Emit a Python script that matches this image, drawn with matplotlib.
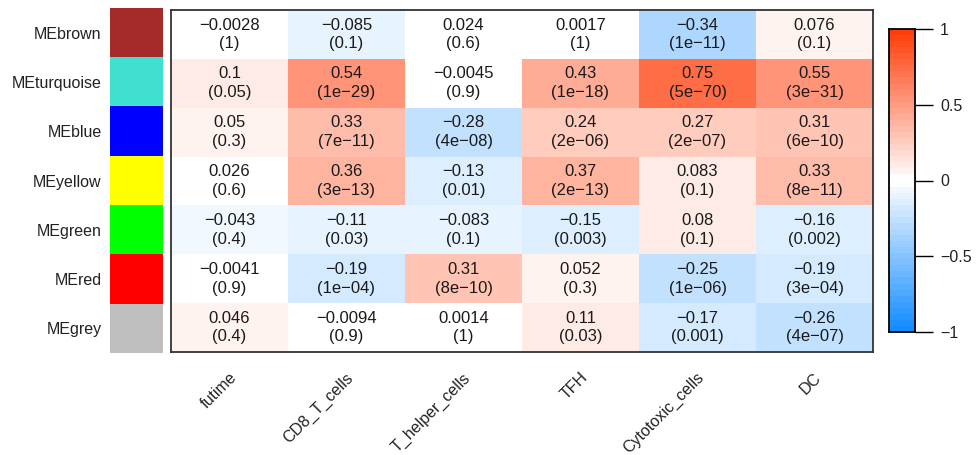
import numpy as np
import matplotlib
matplotlib.use("Agg")
import matplotlib.pyplot as plt
from matplotlib.colors import ListedColormap

plt.rcParams['font.family'] = ['Liberation Sans', 'DejaVu Sans']

# data
modules = ["MEbrown", "MEturquoise", "MEblue", "MEyellow", "MEgreen", "MEred", "MEgrey"]
module_colors = ["#A52A2A", "#40E0D0", "#0000FF", "#FFFF00", "#00FF00", "#FF0000", "#BEBEBE"]
traits = ["futime", "CD8_T_cells", "T_helper_cells", "TFH", "Cytotoxic_cells", "DC"]

corr = [
    [-0.0028, -0.085, 0.024, 0.0017, -0.34, 0.076],
    [0.1, 0.54, -0.0045, 0.43, 0.75, 0.55],
    [0.05, 0.33, -0.28, 0.24, 0.27, 0.31],
    [0.026, 0.36, -0.13, 0.37, 0.083, 0.33],
    [-0.043, -0.11, -0.083, -0.15, 0.08, -0.16],
    [-0.0041, -0.19, 0.31, 0.052, -0.25, -0.19],
    [0.046, -0.0094, 0.0014, 0.11, -0.17, -0.26],
]
pvals = [
    ["1", "0.1", "0.6", "1", "1e-11", "0.1"],
    ["0.05", "1e-29", "0.9", "1e-18", "5e-70", "3e-31"],
    ["0.3", "7e-11", "4e-08", "2e-06", "2e-07", "6e-10"],
    ["0.6", "3e-13", "0.01", "2e-13", "0.1", "8e-11"],
    ["0.4", "0.03", "0.1", "0.003", "0.1", "0.002"],
    ["0.9", "1e-04", "8e-10", "0.3", "1e-06", "3e-04"],
    ["0.4", "0.9", "1", "0.03", "0.001", "4e-07"],
]

corr = np.array(corr)
nr, nc = corr.shape

# blue-white-red in 50 steps (like WGCNA blueWhiteRed), two middle steps white
blue_end = np.array([0.08, 0.55, 1.0])
red_end = np.array([1.0, 0.24, 0.04])
steps = []
for k in range(50):
    t = abs(k - 24.5) / 24.5 if k not in (24, 25) else 0.0
    end = blue_end if k < 25 else red_end
    steps.append(1 - t * (1 - end))
cmap = ListedColormap(steps)

W, H = 976, 455
fig = plt.figure(figsize=(W / 100, H / 100), dpi=100)


def px_axes(x0, y0, x1, y1):
    return fig.add_axes([x0 / W, 1 - y1 / H, (x1 - x0) / W, (y1 - y0) / H])


# module colour column
axc = px_axes(110, 8, 163, 353)
axc.imshow(np.arange(nr).reshape(-1, 1), cmap=ListedColormap(module_colors),
           aspect="auto", interpolation="nearest", extent=(0, 1, nr, 0))
axc.set_xticks([])
axc.set_yticks(np.arange(nr) + 0.5)
axc.set_yticklabels(modules, fontsize=11.5, color="#222222")
axc.tick_params(axis="y", length=0, pad=6)
for s in axc.spines.values():
    s.set_visible(False)

# heatmap
ax = px_axes(171, 10, 873, 352)
ax.pcolormesh(np.arange(nc + 1), np.arange(nr + 1), corr, cmap=cmap, vmin=-1, vmax=1)
ax.set_xlim(0, nc)
ax.set_ylim(nr, 0)
ax.set_xticks([])
ax.set_yticks([])
for s in ax.spines.values():
    s.set_linewidth(1.3)
    s.set_color("#333333")

for i in range(nr):
    for j in range(nc):
        txt = f"{corr[i, j]:g}".replace("-", "\u2212")
        p = "(" + pvals[i][j].replace("-", "\u2212") + ")"
        ax.text(j + 0.5, i + 0.5, txt + "\n" + p, ha="center", va="center",
                fontsize=12, color="#1a1a1a", linespacing=1.3)

for j, t in enumerate(traits):
    ax.annotate(t, xy=(j + 0.5, 0), xycoords=("data", "axes fraction"),
                xytext=(7, -13), textcoords="offset points",
                rotation=45, ha="right", va="top", fontsize=11.5, color="#222222")

# colorbar
cax = px_axes(889, 29, 915, 332)
grad = np.linspace(-1, 1, 200).reshape(-1, 1)
cax.imshow(grad, cmap=cmap, vmin=-1, vmax=1, aspect="auto", origin="lower",
           extent=(0, 1, -1, 1), interpolation="nearest")
cax.set_xticks([])
cax.yaxis.tick_right()
cb_ticks = [-1, -0.5, 0, 0.5, 1]
cax.set_yticks(cb_ticks)
cax.set_yticklabels(["\u22121", "\u22120.5", "0", "0.5", "1"], fontsize=11.5, color="#222222")
cax.tick_params(axis="y", length=13, width=1, pad=5)
for s in cax.spines.values():
    s.set_linewidth(1.3)

fig.savefig("out.png", dpi=100)
